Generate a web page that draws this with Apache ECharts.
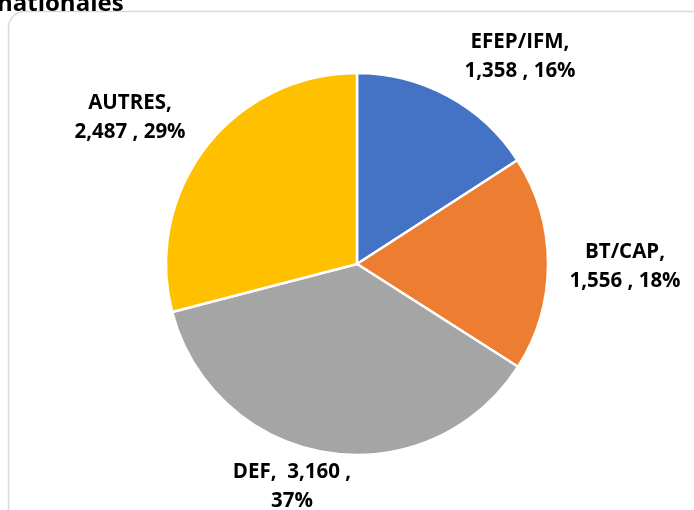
<!DOCTYPE html>
<html>
<head>
<meta charset="utf-8">
<script src="https://cdn.jsdelivr.net/npm/echarts@6/dist/echarts.min.js"></script>
<style>
  html, body { margin: 0; padding: 0; background: #fff; }
  #pieChart { width: 694px; height: 510px; }
</style>
</head>
<body>
<div id="pieChart"></div>
<script>
  // données du graphique
  var categories = ['EFEP/IFM', 'BT/CAP', 'DEF', 'AUTRES'];
  var values = [1358, 1556, 3160, 2487];
  var colors = ['#4472C4', '#ED7D31', '#A5A5A5', '#FFC000'];
  // où couper la ligne de l'étiquette : après le nom ou avant le pourcentage
  var breakBeforePct = [false, false, true, false];
  // centres des étiquettes
  var labelPos = [[520, 57], [625, 267], [292, 487], [130, 118]];

  var chart = echarts.init(document.getElementById('pieChart'));
  var fmt = function (n) { return n.toLocaleString('en-US'); };

  chart.setOption({
    animation: false,
    textStyle: { fontFamily: 'Open Sans' },
    graphic: [
      {
        type: 'rect',
        shape: { x: 8.5, y: 11.5, width: 720, height: 540, r: 16 },
        style: { fill: 'none', stroke: '#d9d9d9', lineWidth: 1.5 },
        silent: true
      },
      {
        type: 'text',
        left: -3,
        top: -8,
        style: { text: 'nationales', font: 'bold 24px "Open Sans"', fill: '#000' }
      }
    ],
    series: [{
      type: 'pie',
      center: [357, 264],
      radius: 191,
      startAngle: 90,
      clockwise: true,
      itemStyle: { borderColor: '#fff', borderWidth: 2.5 },
      label: {
        show: true,
        position: 'outside',
        fontFamily: 'Open Sans',
        fontWeight: 'bold',
        fontSize: 20.5,
        lineHeight: 29,
        color: '#000',
        align: 'center',
        overflow: 'none',
        formatter: function (p) {
          var idx = p.dataIndex;
          if (breakBeforePct[idx]) {
            return p.name + ',  ' + fmt(p.value) + ' ,\n' + Math.round(p.percent) + '%';
          }
          return p.name + ',\n' + fmt(p.value) + ' , ' + Math.round(p.percent) + '%';
        }
      },
      labelLine: { show: false },
      labelLayout: function (params) {
        var pos = labelPos[params.dataIndex];
        return { x: pos[0], y: pos[1], align: 'center', verticalAlign: 'middle' };
      },
      data: categories.map(function (c, i) {
        return { name: c, value: values[i], itemStyle: { color: colors[i] } };
      })
    }]
  });
</script>
</body>
</html>
